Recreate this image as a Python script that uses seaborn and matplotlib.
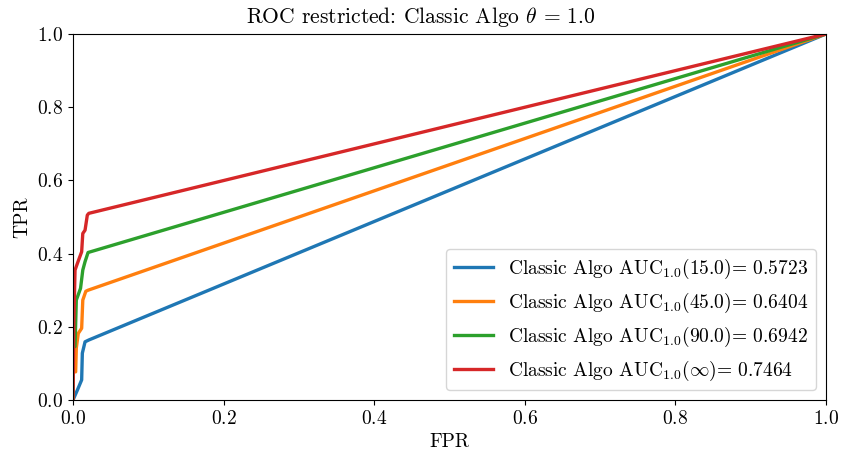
import matplotlib
matplotlib.use("Agg")
import matplotlib.pyplot as plt
import seaborn as sns
import pandas as pd

plt.rcParams['font.family'] = 'serif'
plt.rcParams['font.serif'] = ['cmr10']
plt.rcParams['mathtext.fontset'] = 'cm'
plt.rcParams['axes.formatter.use_mathtext'] = True
plt.rcParams['font.size'] = 14

labels = [
    r"Classic Algo AUC$_{1.0}$(15.0)= 0.5723",
    r"Classic Algo AUC$_{1.0}$(45.0)= 0.6404",
    r"Classic Algo AUC$_{1.0}$(90.0)= 0.6942",
    r"Classic Algo AUC$_{1.0}$($\infty$)= 0.7464",
]
fpr_15 = [0.0, 0.0058, 0.0115, 0.0124, 0.016, 0.021, 1.0]
tpr_15 = [0.0, 0.027, 0.055, 0.128, 0.159, 0.164, 1.0]
fpr_45 = [0.0, 0.0, 0.0035, 0.0044, 0.007, 0.0115, 0.013, 0.017, 0.020, 1.0]
tpr_45 = [0.0, 0.077, 0.077, 0.142, 0.182, 0.196, 0.273, 0.297, 0.300, 1.0]
fpr_90 = [0.0, 0.0, 0.0027, 0.0044, 0.010, 0.013, 0.016, 0.020, 1.0]
tpr_90 = [0.0, 0.146, 0.146, 0.273, 0.305, 0.355, 0.378, 0.403, 1.0]
fpr_inf = [0.0, 0.001, 0.0027, 0.0058, 0.0115, 0.013, 0.016, 0.019, 0.021, 1.0]
tpr_inf = [0.0, 0.2, 0.355, 0.373, 0.405, 0.455, 0.464, 0.505, 0.51, 1.0]

series = [(fpr_15, tpr_15), (fpr_45, tpr_45), (fpr_90, tpr_90), (fpr_inf, tpr_inf)]
frames = []
for lab, (f, t) in zip(labels, series):
    frames.append(pd.DataFrame({"FPR": f, "TPR": t, "label": lab}))
df = pd.concat(frames, ignore_index=True)

fig = plt.figure(figsize=(8.42, 4.59), dpi=100)
ax = fig.add_axes([0.0867, 0.1285, 0.8943, 0.7975])
palette = sns.color_palette("tab10", 4)
sns.lineplot(data=df, x="FPR", y="TPR", hue="label", palette=palette,
             sort=False, estimator=None, linewidth=2.4, ax=ax)
ax.set_xlim(0, 1)
ax.set_ylim(0, 1)
ax.set_xlabel("FPR")
ax.set_ylabel("TPR")
fig.suptitle(r"ROC restricted: Classic Algo $\theta$ = 1.0", fontsize=15.5,
             x=0.5, y=1 - 5 / 459, va="top")
h, l = ax.get_legend_handles_labels()
ax.legend(h, l, loc="lower right")
fig.savefig("out.png", dpi=100)
